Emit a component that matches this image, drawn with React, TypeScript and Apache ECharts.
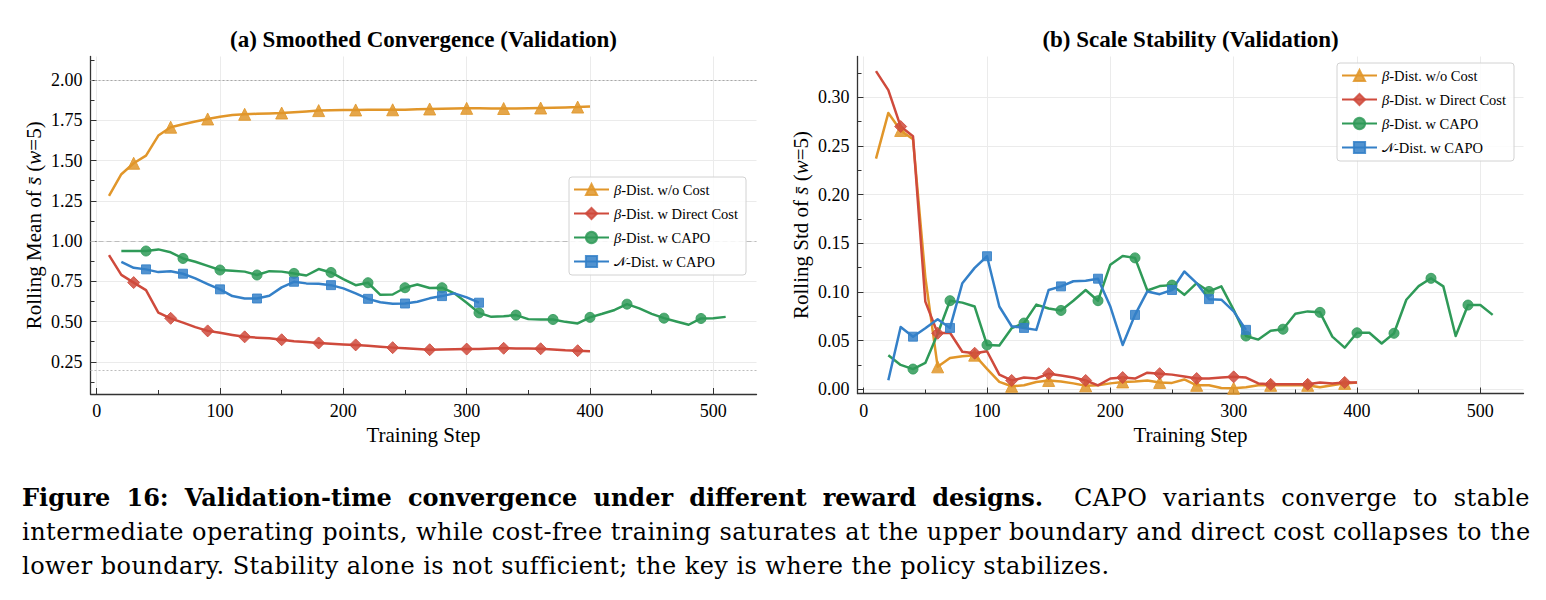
import React, { useEffect, useRef } from "react";
import * as echarts from "echarts";

// Training steps (x positions) for each run
const stepsBaseline = [10, 20, 30, 40, 50, 60, 70, 80, 90, 100, 110, 120, 130, 140, 150, 160, 170, 180, 190, 200, 210, 220, 230, 240, 250, 260, 270, 280, 290, 300, 310, 320, 330, 340, 350, 360, 370, 380, 390, 400];
const stepsCapoBeta = [20, 30, 40, 50, 60, 70, 80, 90, 100, 110, 120, 130, 140, 150, 160, 170, 180, 190, 200, 210, 220, 230, 240, 250, 260, 270, 280, 290, 300, 310, 320, 330, 340, 350, 360, 370, 380, 390, 400, 410, 420, 430, 440, 450, 460, 470, 480, 490, 500, 510];
const stepsCapoNormal = [20, 30, 40, 50, 60, 70, 80, 90, 100, 110, 120, 130, 140, 150, 160, 170, 180, 190, 200, 210, 220, 230, 240, 250, 260, 270, 280, 290, 300, 310];

// (a) rolling mean of s-bar
const meanNoCost = [1.28, 1.415, 1.483, 1.53, 1.655, 1.707, 1.725, 1.742, 1.758, 1.772, 1.783, 1.787, 1.79, 1.792, 1.795, 1.8, 1.805, 1.81, 1.812, 1.814, 1.814, 1.815, 1.815, 1.815, 1.816, 1.818, 1.82, 1.822, 1.823, 1.824, 1.824, 1.823, 1.823, 1.823, 1.824, 1.826, 1.828, 1.83, 1.832, 1.836];
const meanDirectCost = [0.913, 0.79, 0.742, 0.695, 0.556, 0.52, 0.493, 0.465, 0.442, 0.43, 0.417, 0.405, 0.4, 0.396, 0.387, 0.378, 0.373, 0.367, 0.362, 0.358, 0.355, 0.349, 0.343, 0.338, 0.334, 0.329, 0.325, 0.327, 0.328, 0.329, 0.33, 0.332, 0.334, 0.333, 0.332, 0.331, 0.327, 0.322, 0.319, 0.316];
const meanCapoBeta = [0.938, 0.938, 0.938, 0.948, 0.93, 0.892, 0.871, 0.846, 0.82, 0.815, 0.81, 0.789, 0.813, 0.81, 0.799, 0.786, 0.826, 0.805, 0.764, 0.726, 0.741, 0.666, 0.668, 0.71, 0.73, 0.708, 0.71, 0.675, 0.617, 0.554, 0.529, 0.533, 0.54, 0.515, 0.512, 0.513, 0.498, 0.488, 0.526, 0.548, 0.572, 0.608, 0.582, 0.548, 0.521, 0.5, 0.48, 0.519, 0.52, 0.529];
const meanCapoNormal = [0.871, 0.834, 0.824, 0.807, 0.812, 0.797, 0.768, 0.733, 0.7, 0.658, 0.643, 0.643, 0.66, 0.712, 0.747, 0.737, 0.735, 0.726, 0.706, 0.675, 0.641, 0.62, 0.61, 0.612, 0.623, 0.644, 0.658, 0.675, 0.65, 0.617];

// (b) rolling std of s-bar
const stdNoCost = [0.237, 0.284, 0.266, 0.257, 0.115, 0.023, 0.032, 0.034, 0.035, 0.021, 0.0075, 0.003, 0.004, 0.0075, 0.009, 0.008, 0.006, 0.0035, 0.004, 0.006, 0.0075, 0.008, 0.009, 0.007, 0.0065, 0.01, 0.004, 0.004, 0.0013, 0.001, 0.002, 0.004, 0.004, 0.004, 0.004, 0.004, 0.002, 0.004, 0.006, 0.007];
const stdDirectCost = [0.327, 0.3075, 0.27, 0.26, 0.09, 0.0575, 0.058, 0.0385, 0.037, 0.039, 0.015, 0.009, 0.012, 0.011, 0.016, 0.014, 0.012, 0.009, 0.004, 0.011, 0.012, 0.011, 0.017, 0.016, 0.015, 0.013, 0.011, 0.011, 0.012, 0.0127, 0.012, 0.006, 0.005, 0.005, 0.005, 0.005, 0.007, 0.006, 0.007, 0.007];
const stdCapoBeta = [0.035, 0.025, 0.0207, 0.027, 0.057, 0.091, 0.089, 0.085, 0.0455, 0.045, 0.0627, 0.068, 0.087, 0.083, 0.081, 0.091, 0.102, 0.091, 0.128, 0.137, 0.135, 0.1015, 0.106, 0.107, 0.097, 0.109, 0.1005, 0.1057, 0.0816, 0.0547, 0.051, 0.06, 0.0617, 0.0775, 0.08, 0.079, 0.054, 0.0427, 0.058, 0.058, 0.047, 0.0575, 0.092, 0.106, 0.114, 0.1057, 0.0547, 0.0865, 0.0865, 0.0764];
const stdCapoNormal = [0.0093, 0.064, 0.054, 0.0627, 0.072, 0.063, 0.109, 0.1247, 0.1367, 0.085, 0.0647, 0.063, 0.061, 0.102, 0.1057, 0.111, 0.1116, 0.1136, 0.085, 0.0455, 0.0764, 0.1005, 0.0977, 0.102, 0.121, 0.109, 0.0926, 0.092, 0.08, 0.061];

// Axis tick values
const stepTicks = [0, 100, 200, 300, 400, 500];
const stepMinorTicks = [50, 150, 250, 350, 450];
const meanTicks = [0.25, 0.5, 0.75, 1.0, 1.25, 1.5, 1.75, 2.0];
const meanMinorTicks = [0.125, 0.375, 0.625, 0.875, 1.125, 1.375, 1.625, 1.875, 2.125];
const stdTicks = [0, 0.05, 0.1, 0.15, 0.2, 0.25, 0.3];
const stdMinorTicks = [0.025, 0.075, 0.125, 0.175, 0.225, 0.275, 0.325];

// Reference levels in panel (a): upper bound, neutral scale, lower bound
const meanRefLevels = [2.0, 1.0, 0.2];

const seriesNames = ["β-Dist. w/o Cost", "β-Dist. w Direct Cost", "β-Dist. w CAPO", "𝒩-Dist. w CAPO"];
const legendLabels: Record<string, string> = {
  "β-Dist. w/o Cost": "{i|β}-Dist. w/o Cost",
  "β-Dist. w Direct Cost": "{i|β}-Dist. w Direct Cost",
  "β-Dist. w CAPO": "{i|β}-Dist. w CAPO",
  "𝒩-Dist. w CAPO": "{c|𝒩}-Dist. w CAPO",
};

const COLORS = ["#E1962A", "#CF4A3C", "#2F9A58", "#3480C8"];
const SYMBOLS = ["triangle", "diamond", "circle", "rect"];
const SYMBOL_SIZES: any[] = [12, 12, 10, 9];

const SERIF = "'Liberation Serif', 'Times New Roman', serif";

const grids = [
  { left: 90.5, top: 56.5, width: 666, height: 337.5 },
  { left: 857.5, top: 56.5, width: 666, height: 337 },
];

function buildLine(idx: number, steps: number[], values: number[], xAxisIndex: number, yAxisIndex: number, extra: any = {}) {
  const color = COLORS[idx];
  return {
    name: seriesNames[idx],
    type: "line",
    xAxisIndex,
    yAxisIndex,
    symbol: SYMBOLS[idx],
    symbolSize: SYMBOL_SIZES[idx],
    showAllSymbol: true,
    data: steps.map((s, i) => (i % 3 === 2 ? [s, values[i]] : { value: [s, values[i]], symbol: "none" })),
    lineStyle: { color, width: 2.5, join: "round" },
    itemStyle: { color, opacity: 0.85, borderColor: color, borderWidth: 1 },
    emphasis: { disabled: true },
    ...extra,
  };
}

function mainXAxis(gridIndex: number) {
  return {
    gridIndex,
    type: "value",
    min: -5,
    max: 535,
    position: "bottom",
    axisLine: { show: true, onZero: false, lineStyle: { color: "#333", width: 1.3 } },
    axisTick: { show: true, inside: true, length: 6, customValues: stepTicks, lineStyle: { color: "#333", width: 1 } },
    axisLabel: { customValues: stepTicks, margin: 8, color: "#000", fontFamily: SERIF, fontSize: 18 },
    splitLine: { show: true, lineStyle: { color: "#ebebeb", width: 1 } },
    name: "Training Step",
    nameLocation: "middle",
    nameGap: 29,
    nameTextStyle: { color: "#000", fontFamily: SERIF, fontSize: 21 },
  };
}

function minorXAxis(gridIndex: number) {
  return {
    gridIndex,
    type: "value",
    min: -5,
    max: 535,
    position: "bottom",
    axisLine: { show: false, onZero: false },
    axisTick: { show: true, inside: true, length: 4, customValues: stepMinorTicks, lineStyle: { color: "#333", width: 1 } },
    axisLabel: { show: false },
    splitLine: { show: false },
  };
}

function mainYAxis(gridIndex: number, min: number, max: number, ticks: number[], name: string, nameGap: number) {
  return {
    gridIndex,
    type: "value",
    min,
    max,
    position: "left",
    axisLine: { show: true, onZero: false, lineStyle: { color: "#333", width: 1.3 } },
    axisTick: { show: true, inside: true, length: 6, customValues: ticks, lineStyle: { color: "#333", width: 1 } },
    axisLabel: {
      customValues: ticks,
      margin: 8,
      color: "#000",
      fontFamily: SERIF,
      fontSize: 18,
      formatter: (v: number) => v.toFixed(2),
    },
    splitLine: { show: true, lineStyle: { color: "#ebebeb", width: 1 } },
    name,
    nameLocation: "middle",
    nameGap,
    nameRotate: 90,
    nameTextStyle: {
      color: "#000",
      fontFamily: SERIF,
      fontSize: 21,
      rich: { i: { fontStyle: "italic", fontFamily: SERIF, fontSize: 21, color: "#000" } },
    },
  };
}

function minorYAxis(gridIndex: number, min: number, max: number, ticks: number[]) {
  return {
    gridIndex,
    type: "value",
    min,
    max,
    position: "left",
    axisLine: { show: false, onZero: false },
    axisTick: { show: true, inside: true, length: 4, customValues: ticks, lineStyle: { color: "#333", width: 1 } },
    axisLabel: { show: false },
    splitLine: { show: false },
  };
}

function buildLegend(left: number, top: number) {
  return {
    left,
    top,
    orient: "vertical",
    itemWidth: 35,
    itemHeight: 14,
    itemGap: 9,
    padding: [5, 8, 6, 4],
    backgroundColor: "rgba(255,255,255,0.85)",
    borderColor: "#d2d2d2",
    borderWidth: 1,
    borderRadius: 3,
    data: seriesNames,
    formatter: (name: string) => legendLabels[name] ?? name,
    textStyle: {
      color: "#000",
      fontFamily: SERIF,
      fontSize: 14.5,
      rich: {
        i: { fontStyle: "italic", fontFamily: SERIF, fontSize: 14.5, color: "#000" },
        c: { fontFamily: "'DejaVu Serif', 'DejaVu Sans', serif", fontSize: 13, color: "#000" },
      },
    },
  };
}

const refLineStyles = [
  { color: "#a8a8a8", type: [2, 2], width: 1 },
  { color: "#bdbdbd", type: [5, 3], width: 1 },
  { color: "#bdbdbd", type: [2, 2], width: 1 },
];

function Chart() {
  const ref = useRef<HTMLDivElement>(null);
  useEffect(() => {
    if (!ref.current) return;
    const chart = echarts.init(ref.current, undefined, { renderer: "svg" });
    const titleStyle = {
      fontFamily: SERIF,
      fontWeight: "bold",
      fontSize: 23,
      fill: "#000",
      align: "center",
      verticalAlign: "middle",
    };
    const option: any = {
      animation: false,
      backgroundColor: "#fff",
      grid: grids,
      xAxis: [mainXAxis(0), minorXAxis(0), mainXAxis(1), minorXAxis(1)],
      yAxis: [
        mainYAxis(0, 0.05, 2.146, meanTicks, "Rolling Mean of {i|s̄} ({i|w}=5)", 46),
        minorYAxis(0, 0.05, 2.146, meanMinorTicks),
        mainYAxis(1, -0.0044, 0.342, stdTicks, "Rolling Std of {i|s̄} ({i|w}=5)", 46),
        minorYAxis(1, -0.0044, 0.342, stdMinorTicks),
      ],
      legend: [buildLegend(569, 177), buildLegend(1337, 63)],
      graphic: [
        { type: "text", x: 423.5, y: 39, style: { text: "(a) Smoothed Convergence (Validation)", ...titleStyle } },
        { type: "text", x: 1190.5, y: 39, style: { text: "(b) Scale Stability (Validation)", ...titleStyle } },
      ],
      series: [
        buildLine(0, stepsBaseline, meanNoCost, 0, 0, {
          markLine: {
            silent: true,
            symbol: "none",
            label: { show: false },
            z: 1,
            data: meanRefLevels.map((v, i) => ({ yAxis: v, lineStyle: refLineStyles[i] })),
          },
        }),
        buildLine(1, stepsBaseline, meanDirectCost, 0, 0),
        buildLine(2, stepsCapoBeta, meanCapoBeta, 0, 0),
        buildLine(3, stepsCapoNormal, meanCapoNormal, 0, 0),
        buildLine(0, stepsBaseline, stdNoCost, 2, 2),
        buildLine(1, stepsBaseline, stdDirectCost, 2, 2),
        buildLine(2, stepsCapoBeta, stdCapoBeta, 2, 2),
        buildLine(3, stepsCapoNormal, stdCapoNormal, 2, 2),
      ],
    };
    chart.setOption(option);
    return () => chart.dispose();
  }, []);
  return <div ref={ref} style={{ position: "absolute", left: 0, top: 0, width: 1546, height: 470 }} />;
}

const captionLine: React.CSSProperties = {
  textAlign: "justify",
  textAlignLast: "justify",
  whiteSpace: "nowrap",
  height: 34,
};

const spaced: React.CSSProperties = { letterSpacing: "0.45px" };

export default function App() {
  return (
    <div style={{ position: "absolute", left: 0, top: 0, width: 1546, height: 600, background: "#fff", overflow: "hidden" }}>
      <Chart />
      <div
        style={{
          position: "absolute",
          left: 22,
          top: 481,
          width: 1508,
          fontFamily: "'DejaVu Serif', serif",
          fontSize: 24,
          lineHeight: "34px",
          color: "#000",
        }}
      >
        <div style={captionLine}>
          <b>Figure 16: Validation-time convergence under different reward designs.</b>&nbsp; <span style={spaced}>CAPO variants converge to stable</span>
        </div>
        <div style={{ ...captionLine, ...spaced }}>
          intermediate operating points, while cost-free training saturates at the upper boundary and direct cost collapses to the
        </div>
        <div style={{ whiteSpace: "nowrap", height: 34, ...spaced }}>
          lower boundary. Stability alone is not sufficient; the key is where the policy stabilizes.
        </div>
      </div>
    </div>
  );
}
